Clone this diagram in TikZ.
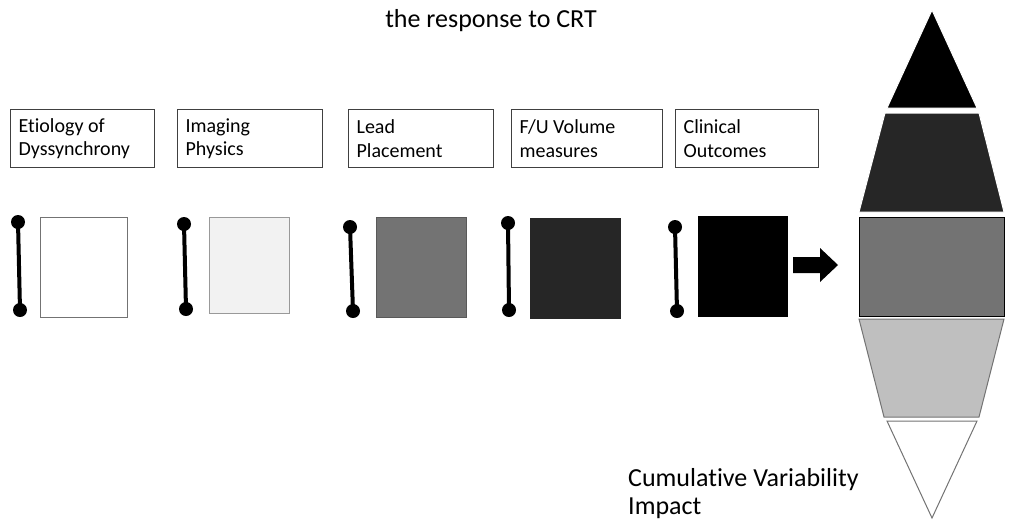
\documentclass[tikz,border=0pt]{standalone}
\usepackage{fontspec}
\setmainfont{Carlito}[Ligatures=NoCommon]
\tikzset{
  lbl/.style={draw=black!75, line width=1.2pt, rectangle, anchor=north west, inner xsep=8pt, inner ysep=0pt,
    align=flush left, text width=#1, font=\fontsize{20}{23.5}\selectfont},
  sq/.style={rectangle, anchor=north west, inner sep=0pt, line width=1pt},
  dot/.style={circle, fill=black, inner sep=0pt, minimum size=14pt},
  bar/.style={line width=4pt, black},
  seg/.style={line width=1pt},
}
\begin{document}
\begin{tikzpicture}[x=1pt,y=-1pt]
\useasboundingbox (0,0) rectangle (1016,523);
\node[font=\fontsize{26}{30}\selectfont, anchor=base, inner sep=0pt] (title) at (491,27) {the response to CRT};

% label boxes
\node[lbl=128pt, minimum height=58pt] (l1) at (10,109) {Etiology of\\Dyssynchrony};
\node[lbl=129pt, minimum height=58pt] (l2) at (177,109) {Imaging\\Physics};
\node[lbl=129pt, minimum height=58pt] (l3) at (348,109) {Lead\\Placement};
\node[lbl=135pt, minimum height=58pt] (l4) at (511,109) {F/U Volume\\measures};
\node[lbl=127pt, minimum height=58pt] (l5) at (675,109) {Clinical\\Outcomes};

% squares
\node[sq, draw=black!55, fill=white, minimum width=87pt, minimum height=100pt] (s1) at (40,217) {};
\node[sq, draw=black!40, fill=black!5, minimum width=80pt, minimum height=96pt] (s2) at (209,217) {};
\node[sq, draw=black!65, fill=black!55, minimum width=90pt, minimum height=100pt] (s3) at (376,217) {};
\node[sq, draw=black!85, fill=black!85, minimum width=90pt, minimum height=100pt] (s4) at (530,218) {};
\node[sq, draw=black, fill=black, minimum width=89pt, minimum height=100pt] (s5) at (698,216) {};

% dumbbells
\node[dot] (d1a) at (18,222) {}; \node[dot] (d1b) at (20,310) {};
\node[dot] (d2a) at (184,224) {}; \node[dot] (d2b) at (186,309) {};
\node[dot] (d3a) at (350,227) {}; \node[dot] (d3b) at (353,311) {};
\node[dot] (d4a) at (508,223) {}; \node[dot] (d4b) at (509,310) {};
\node[dot] (d5a) at (675,227) {}; \node[dot] (d5b) at (677,311) {};
\draw[bar] (d1a.center) -- (d1b.center);
\draw[bar] (d2a.center) -- (d2b.center);
\draw[bar] (d3a.center) -- (d3b.center);
\draw[bar] (d4a.center) -- (d4b.center);
\draw[bar] (d5a.center) -- (d5b.center);

% block arrow
\fill[black] (793,257) -- (820,257) -- (820,248) -- (838,265) -- (820,282) -- (820,273) -- (793,273) -- cycle;

% cumulative stack
\draw[seg, draw=white, fill=black] (932,10) -- (977,108) -- (887,108) -- cycle;
\draw[seg, draw=white, fill=black!85] (885,113) -- (979,113) -- (1004,212) -- (859,212) -- cycle;
\draw[seg, draw=black, fill=black!55] (859,217) rectangle (1004,316);
\draw[seg, draw=black!55, fill=black!25] (859,319) -- (1004,319) -- (979,417) -- (884,417) -- cycle;
\draw[seg, draw=black!55, fill=white] (887,421) -- (977,421) -- (932,518) -- cycle;

\node[anchor=base west, inner sep=0pt, font=\fontsize{26}{31}\selectfont] (cvi1) at (628,486) {Cumulative Variability};
\node[anchor=base west, inner sep=0pt, font=\fontsize{26}{31}\selectfont] (cvi2) at (628,514) {Impact};
\end{tikzpicture}
\end{document}
